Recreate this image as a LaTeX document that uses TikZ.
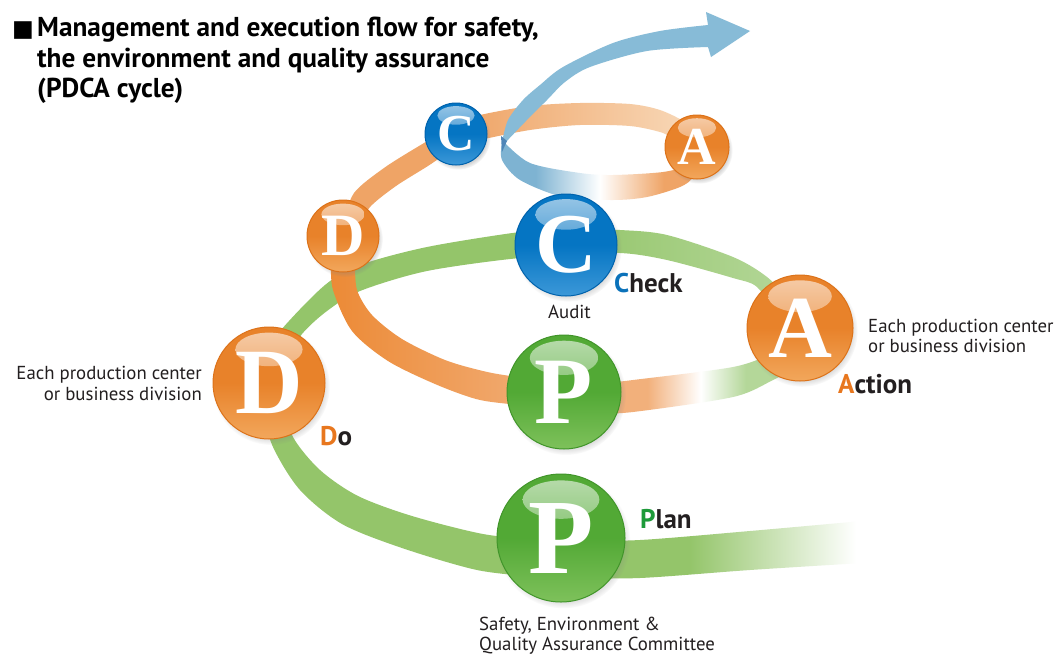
\documentclass[tikz,border=0pt]{standalone}
\usepackage{fontspec}
\setmainfont{PT Sans}
\newfontfamily\letterfont{Liberation Serif}
\newfontfamily\symfont{DejaVu Sans}
\usetikzlibrary{shadows,fadings}

\definecolor{orangeB}{HTML}{E8822A}
\definecolor{orangeL}{HTML}{F2A75C}
\definecolor{orangeD}{HTML}{DC7219}
\definecolor{greenB}{HTML}{52A935}
\definecolor{greenL}{HTML}{7EC15B}
\definecolor{greenD}{HTML}{41952A}
\definecolor{blueB}{HTML}{0575C3}
\definecolor{blueL}{HTML}{3C98D8}
\definecolor{blueD}{HTML}{0062AC}
\definecolor{bandG}{HTML}{94C56A}
\definecolor{bandGL}{HTML}{B4D799}
\definecolor{bandO}{HTML}{EC8A36}
\definecolor{bandOL}{HTML}{F2B07B}
\definecolor{topO}{HTML}{EFA466}
\definecolor{topOL}{HTML}{F8DABB}
\definecolor{arrowB}{HTML}{87BBD7}
\definecolor{loopB}{HTML}{7EB3D2}
\definecolor{twistB}{HTML}{4F86B8}
\definecolor{txt}{HTML}{231F20}
\definecolor{lblO}{HTML}{E8771E}
\definecolor{lblG}{HTML}{1E9A3A}
\definecolor{lblB}{HTML}{0B72BA}

\pgfdeclarehorizontalshading{gfade}{100bp}{color(0bp)=(bandG); color(46bp)=(bandG); color(74bp)=(white); color(100bp)=(white)}
\pgfdeclarehorizontalshading{apfade}{100bp}{color(0bp)=(bandOL); color(39bp)=(bandOL); color(52bp)=(white); color(63bp)=(bandGL); color(100bp)=(bandGL)}
\pgfdeclarehorizontalshading{loopfade}{100bp}{color(0bp)=(loopB); color(34bp)=(loopB); color(50bp)=(white); color(66bp)=(topO); color(100bp)=(topO)}

\tikzset{
  ball/.style n args={4}{circle, inner sep=0pt, minimum size=#4*2pt,
    top color=#1, bottom color=#2, middle color=#1,
    draw=#3, line width=1pt,
    circular drop shadow={shadow xshift=2pt, shadow yshift=-3pt, opacity=0.35, shadow scale=1.05},
    text=white,
    font={\pgfmathsetmacro\fsz{1.67*#4}\letterfont\fontsize{\fsz pt}{\fsz pt}\selectfont},
    path picture={\shade[top color=white!60!#1, bottom color=#1]
      ([yshift=0.6*#4pt]path picture bounding box.center) ellipse [x radius=0.6*#4pt, y radius=0.3*#4pt];}
  },
  lbl/.style={font=\fontsize{27}{30}\selectfont\bfseries, text=txt, inner sep=0pt, anchor=base west},
  note/.style={font=\fontsize{18.8}{21}\selectfont, text=txt, inner sep=0pt},
  ttl/.style={font=\fontsize{27.3}{31}\selectfont\bfseries, text=black, inner sep=0pt, anchor=base west},
}

\begin{document}
\begin{tikzpicture}[x=1pt,y=-1pt]
\useasboundingbox (0,0) rectangle (1056,656);
\fill[white] (0,0) rectangle (1056,656);
\begin{scope}
\clip (0,0) rectangle (1056,656);

% ---- title
\node[ttl, font=\fontsize{23}{23}\selectfont\symfont] (sq) at (12,36) {■};
\node[ttl] (t1) at (37,36) {Management and execution flow for safety,};
\node[ttl] (t2) at (37,67) {the environment and quality assurance};
\node[ttl] (t3) at (37,97) {(PDCA cycle)};

% ---- bottom green band
\fill[bandG] plot[smooth] coordinates {(259,402) (273,447) (300,490) (342,524) (402,548) (477,570) (539,577) (565,578)}
  -- plot[smooth] coordinates {(565,541) (541,540) (483,534) (412,516) (358,496) (320,470) (293,437) (281,398)} -- cycle;
\shade[shading=gfade] plot[smooth] coordinates {(565,541) (640,540) (750,531) (862,521)}
  -- plot[smooth] coordinates {(862,563) (750,570) (640,578) (565,578)} -- cycle;

% ---- green D -> C
\fill[bandG] plot[smooth] coordinates {(262,360) (281,330) (325,285) (360,265) (427,247) (520,232) (570,229)}
  -- plot[smooth] coordinates {(570,258) (520,258) (427,271) (360,291) (327,311) (302,334) (285,362)} -- cycle;
% ---- green C -> A
\shade[left color=bandG, right color=bandGL] plot[smooth] coordinates {(565,229) (620,230) (667,235) (733,257) (767,277) (795,305)}
  -- plot[smooth] coordinates {(780,318) (757,287) (733,278) (667,260) (620,253) (565,256)} -- cycle;
% ---- A -> P (green to white to orange)
\shade[shading=apfade] plot[smooth] coordinates {(590,385) (633,380) (733,367) (773,353) (790,343)}
  -- plot[smooth] coordinates {(795,368) (773,380) (733,397) (633,412) (590,414)} -- cycle;
% ---- orange P -> small D
\shade[left color=bandO, right color=bandOL] plot[smooth] coordinates {(355,262) (357,290) (372,315) (402,339) (445,360) (483,371) (511,376) (560,381)}
  -- plot[smooth] coordinates {(560,409) (509,404) (476,399) (435,384) (388,361) (352,331) (333,290) (331,262)} -- cycle;
% ---- orange small D -> small C
\fill[topO] plot[smooth] coordinates {(342,225) (354,193) (384,168) (419,146) (450,128)}
  -- plot[smooth] coordinates {(462,142) (431,164) (396,186) (370,207) (358,228)} -- cycle;
% ---- orange top arc small C -> small A
\shade[left color=topO, right color=topOL] plot[smooth] coordinates {(460,122) (480,115) (530,106) (580,103) (630,104) (660,110) (685,122) (700,135)}
  -- plot[smooth] coordinates {(690,150) (670,137) (660,132) (630,126) (580,125) (530,130) (480,140) (460,146)} -- cycle;
% ---- return loop small A -> twist (orange to white to blue)
\shade[shading=loopfade] plot[smooth] coordinates {(700,155) (693,177) (680,187) (647,197) (613,200) (563,197) (520,180) (502,160) (502,143)}
  -- plot[smooth] coordinates {(503,141) (530,163) (580,173) (613,175) (663,172) (687,165) (700,150)} -- cycle;
% ---- blue arrow
\fill[arrowB] plot[smooth] coordinates {(502,142) (508,120) (523,100) (540,85) (563,67) (613,43) (660,31) (708,25)}
  -- (706,12) -- (750,31) -- (711,57) -- (708,47)
  -- plot[smooth] coordinates {(708,47) (647,51) (590,67) (565,82) (547,100) (525,122) (505,143)} -- cycle;
\fill[twistB] (501,136) -- (507,141) -- (502,152) -- cycle;

% ---- balls
\node[ball={blueB}{blueL}{blueD}{31}] (c2) at (456,134) {\bfseries C};
\node[ball={orangeB}{orangeL}{orangeD}{32}] (a2) at (697,147) {\bfseries A};
\node[ball={orangeB}{orangeL}{orangeD}{36}] (d2) at (343,236) {\bfseries D};
\node[ball={blueB}{blueL}{blueD}{51}] (c1) at (566,245) {\bfseries C};
\node[ball={orangeB}{orangeL}{orangeD}{53}] (a1) at (800,328) {\bfseries A};
\node[ball={greenB}{greenL}{greenD}{57}] (p2) at (564,392) {\bfseries P};
\node[ball={orangeB}{orangeL}{orangeD}{56}] (d1) at (269,383) {\bfseries D};
\node[ball={greenB}{greenL}{greenD}{64}] (p1) at (561,538) {\bfseries P};

% ---- labels
\node[lbl] (chk) at (614,292) {\textcolor{lblB}{C}heck};
\node[note, anchor=base west] (aud) at (548,318) {Audit};
\node[lbl] (act) at (838,393) {\textcolor{lblO}{A}ction};
\node[note, anchor=base west] (r1) at (868,332) {Each production center};
\node[note, anchor=base west] (r2) at (868,352) {or business division};
\node[note, anchor=base east] (l1) at (202,379) {Each production center};
\node[note, anchor=base east] (l2) at (202,400) {or business division};
\node[lbl] (do) at (320,445) {\textcolor{lblO}{D}o};
\node[lbl] (pl) at (640,528) {\textcolor{lblG}{P}lan};
\node[note, anchor=base west] (b1) at (479,630) {Safety, Environment \&};
\node[note, anchor=base west] (b2) at (479,650) {Quality Assurance Committee};
\end{scope}
\end{tikzpicture}
\end{document}
